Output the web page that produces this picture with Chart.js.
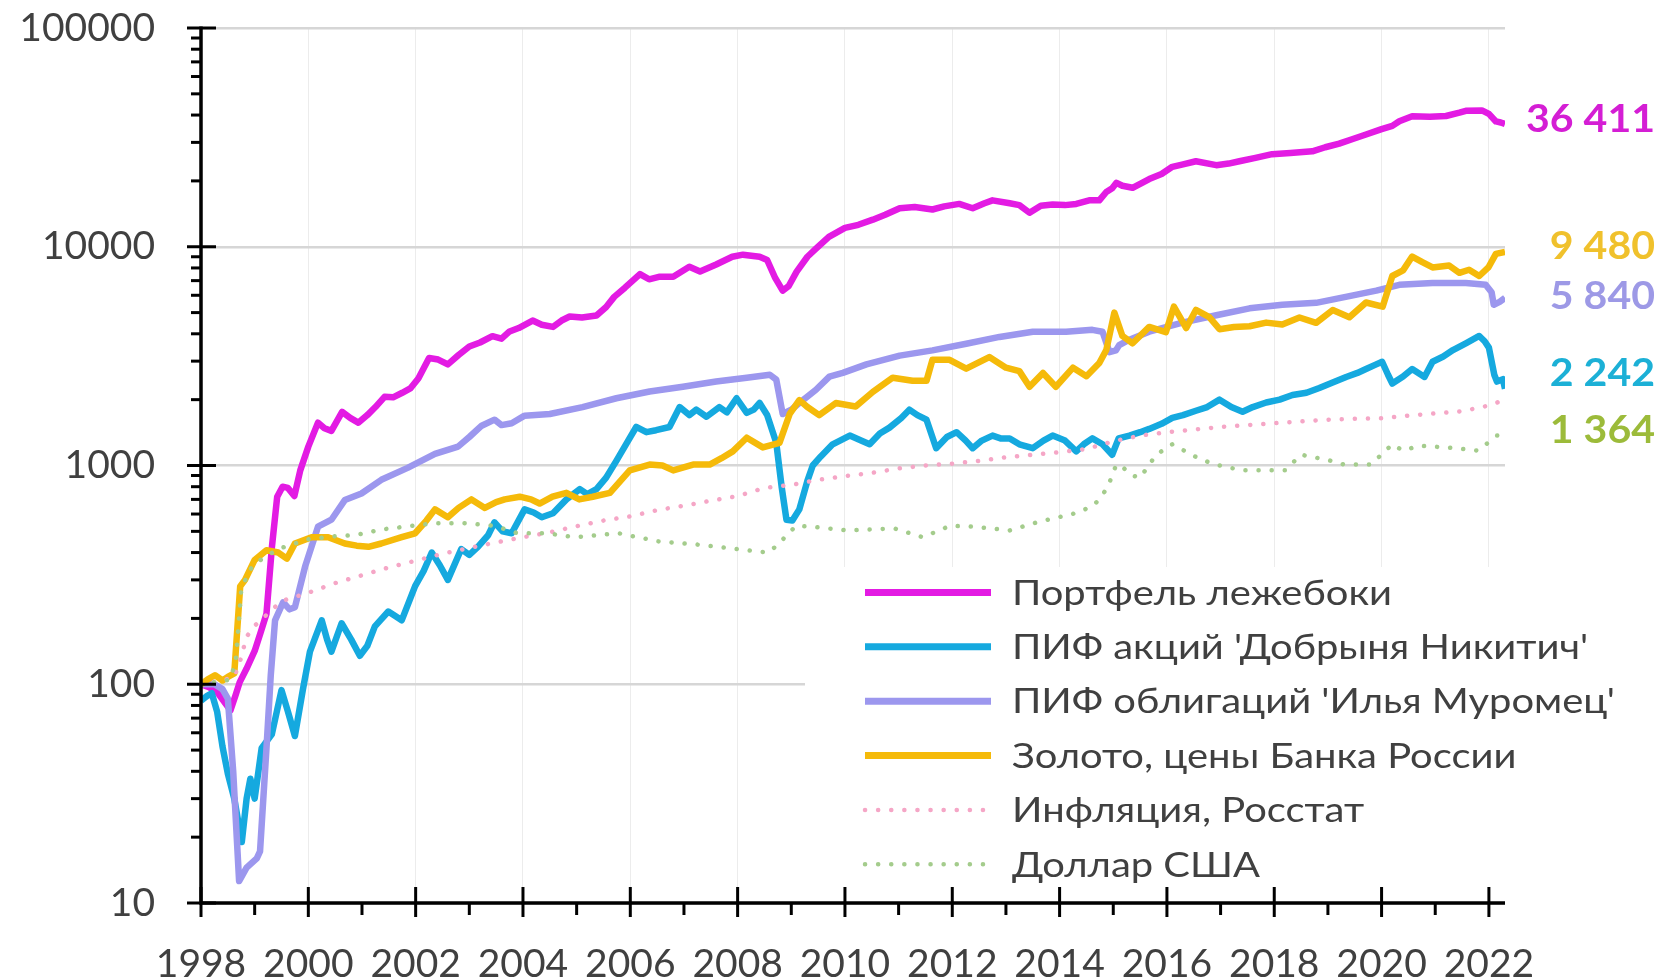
<!DOCTYPE html>
<html>
<head>
<meta charset="utf-8">
<script src="https://cdn.jsdelivr.net/npm/chart.js@4.4.0/dist/chart.umd.min.js"></script>
<style>
  html, body { margin: 0; padding: 0; background: #fff; }
</style>
</head>
<body>
<canvas id="chart" width="1671" height="980"></canvas>
<script>
// tick labels
const xTicks = [1998, 2000, 2002, 2004, 2006, 2008, 2010, 2012, 2014, 2016, 2018, 2020, 2022];
const yTicks = [10, 100, 1000, 10000, 100000];

const seriesNames = [
  "Портфель лежебоки",
  "ПИФ акций 'Добрыня Никитич'",
  "ПИФ облигаций 'Илья Муромец'",
  "Золото, цены Банка России",
  "Инфляция, Росстат",
  "Доллар США"
];

// [year, value], value of 100 = January 1998
const portfolioPoints = [
  [1998.00,100],[1998.15,97],[1998.30,92],[1998.45,82],[1998.55,76],[1998.65,90],[1998.72,102],[1998.85,118],
  [1999.00,142],[1999.12,175],[1999.22,210],[1999.32,420],[1999.42,720],[1999.52,800],[1999.62,790],[1999.74,725],
  [1999.85,950],[2000.00,1220],[2000.18,1570],[2000.30,1480],[2000.43,1440],[2000.63,1760],[2000.78,1650],[2000.93,1570],
  [2001.10,1700],[2001.25,1850],[2001.42,2060],[2001.58,2050],[2001.75,2150],[2001.90,2250],[2002.05,2500],[2002.25,3100],
  [2002.42,3050],[2002.60,2900],[2002.80,3200],[2003.00,3500],[2003.20,3650],[2003.43,3900],[2003.60,3800],[2003.75,4100],
  [2003.92,4250],[2004.18,4600],[2004.35,4400],[2004.56,4300],[2004.72,4600],[2004.87,4800],[2005.10,4750],[2005.37,4850],
  [2005.55,5300],[2005.70,5900],[2005.90,6500],[2006.18,7500],[2006.35,7100],[2006.55,7300],[2006.80,7300],[2007.10,8100],
  [2007.30,7700],[2007.60,8300],[2007.90,9000],[2008.10,9200],[2008.41,9000],[2008.55,8700],[2008.70,7200],[2008.84,6300],
  [2008.95,6600],[2009.10,7700],[2009.30,9000],[2009.46,9800],[2009.70,11100],[2010.00,12200],[2010.25,12600],[2010.52,13300],
  [2010.75,14000],[2011.02,15000],[2011.30,15200],[2011.63,14800],[2011.85,15300],[2012.13,15700],[2012.38,15000],[2012.60,15800],
  [2012.75,16300],[2013.07,15800],[2013.25,15500],[2013.44,14300],[2013.65,15400],[2013.87,15600],[2014.10,15500],[2014.31,15700],
  [2014.55,16300],[2014.74,16300],[2014.87,17800],[2014.98,18500],[2015.06,19600],[2015.17,19000],[2015.36,18600],[2015.67,20400],
  [2015.90,21500],[2016.10,23200],[2016.30,23800],[2016.54,24600],[2016.92,23600],[2017.15,24000],[2017.35,24600],[2017.65,25500],
  [2017.96,26500],[2018.30,26800],[2018.71,27300],[2018.95,28500],[2019.21,29600],[2019.45,31000],[2019.71,32600],[2020.00,34500],
  [2020.20,35700],[2020.33,37500],[2020.57,39500],[2020.90,39300],[2021.20,39600],[2021.45,41000],[2021.57,41800],[2021.87,42000],
  [2022.00,40500],[2022.13,37400],[2022.22,37000],[2022.30,36411]
];

const stocksPoints = [
  [1998.00,84],[1998.10,88],[1998.20,91],[1998.30,75],[1998.40,52],[1998.50,39],[1998.62,30],[1998.76,19],
  [1998.85,30],[1998.92,37],[1999.00,30],[1999.13,51],[1999.25,56],[1999.32,59],[1999.50,94],[1999.62,75],
  [1999.75,58],[1999.90,95],[2000.03,141],[2000.25,196],[2000.35,160],[2000.43,141],[2000.62,190],[2000.80,160],
  [2000.96,135],[2001.10,150],[2001.24,184],[2001.49,215],[2001.62,205],[2001.74,196],[2001.99,281],[2002.15,330],
  [2002.30,400],[2002.45,350],[2002.60,300],[2002.85,415],[2003.00,390],[2003.16,425],[2003.35,480],[2003.47,550],
  [2003.62,500],[2003.79,490],[2004.03,630],[2004.20,610],[2004.35,580],[2004.56,605],[2004.81,700],[2005.06,780],
  [2005.20,740],[2005.37,780],[2005.55,880],[2005.74,1050],[2005.92,1250],[2006.11,1500],[2006.30,1420],[2006.48,1450],
  [2006.73,1500],[2006.92,1850],[2007.10,1700],[2007.23,1800],[2007.42,1670],[2007.66,1850],[2007.80,1750],[2007.98,2030],
  [2008.17,1740],[2008.30,1800],[2008.41,1930],[2008.55,1700],[2008.72,1270],[2008.82,800],[2008.91,565],[2009.02,560],
  [2009.15,630],[2009.30,850],[2009.40,1000],[2009.55,1100],[2009.77,1250],[2010.09,1370],[2010.30,1300],[2010.46,1250],
  [2010.65,1400],[2010.83,1490],[2011.05,1650],[2011.20,1800],[2011.35,1700],[2011.52,1620],[2011.70,1200],[2011.90,1350],
  [2012.08,1420],[2012.25,1300],[2012.38,1200],[2012.55,1300],[2012.75,1370],[2012.90,1330],[2013.07,1330],[2013.25,1250],
  [2013.50,1200],[2013.70,1300],[2013.87,1370],[2014.10,1300],[2014.31,1160],[2014.45,1250],[2014.61,1330],[2014.80,1250],
  [2014.98,1120],[2015.10,1330],[2015.30,1370],[2015.50,1420],[2015.67,1470],[2015.90,1550],[2016.10,1650],[2016.30,1700],
  [2016.54,1780],[2016.75,1850],[2016.98,2000],[2017.20,1850],[2017.41,1760],[2017.60,1850],[2017.85,1940],[2018.10,2000],
  [2018.34,2100],[2018.60,2150],[2018.84,2260],[2019.10,2400],[2019.34,2540],[2019.55,2650],[2019.71,2760],[2019.90,2900],
  [2020.01,2980],[2020.12,2600],[2020.20,2370],[2020.40,2550],[2020.57,2760],[2020.80,2540],[2020.95,2980],[2021.15,3150],
  [2021.33,3370],[2021.57,3620],[2021.82,3910],[2021.92,3700],[2022.00,3460],[2022.10,2600],[2022.15,2420],[2022.26,2480],
  [2022.30,2242]
];

const bondsPoints = [
  [1998.00,100],[1998.25,100],[1998.40,95],[1998.50,86],[1998.60,40],[1998.71,12.6],[1998.85,14.5],[1999.04,16],
  [1999.10,17.2],[1999.22,51],[1999.30,110],[1999.38,196],[1999.53,237],[1999.65,220],[1999.75,225],[1999.94,345],
  [2000.18,525],[2000.43,565],[2000.68,695],[2000.99,745],[2001.36,860],[2001.85,975],[2002.36,1130],[2002.79,1220],
  [2003.00,1350],[2003.23,1520],[2003.47,1620],[2003.60,1530],[2003.79,1560],[2004.03,1690],[2004.50,1720],[2005.11,1850],
  [2005.74,2030],[2006.36,2180],[2006.98,2290],[2007.60,2420],[2008.17,2520],[2008.60,2600],[2008.72,2470],[2008.84,1720],
  [2009.00,1800],[2009.15,1930],[2009.46,2220],[2009.71,2550],[2009.96,2650],[2010.40,2900],[2011.02,3180],[2011.63,3360],
  [2012.26,3600],[2012.88,3870],[2013.50,4090],[2014.12,4090],[2014.61,4170],[2014.80,4090],[2014.93,3300],[2015.05,3360],
  [2015.11,3550],[2015.30,3760],[2015.67,4090],[2016.29,4500],[2016.92,4860],[2017.54,5230],[2018.15,5430],[2018.78,5540],
  [2019.40,5950],[2019.90,6300],[2020.33,6700],[2020.95,6820],[2021.57,6820],[2021.94,6700],[2022.05,6200],[2022.09,5430],
  [2022.20,5600],[2022.30,5840]
];

const goldPoints = [
  [1998.00,100],[1998.12,105],[1998.26,110],[1998.40,104],[1998.50,108],[1998.62,112],[1998.73,280],[1998.82,300],
  [1999.00,370],[1999.22,410],[1999.44,400],[1999.60,375],[1999.75,440],[2000.06,470],[2000.37,470],[2000.68,440],
  [2000.90,430],[2001.12,425],[2001.36,440],[2001.74,470],[2001.99,490],[2002.20,560],[2002.36,630],[2002.60,580],
  [2002.80,640],[2003.04,700],[2003.29,640],[2003.50,680],[2003.66,700],[2003.94,720],[2004.15,700],[2004.31,670],
  [2004.55,720],[2004.81,750],[2005.05,700],[2005.30,720],[2005.62,750],[2005.99,950],[2006.36,1010],[2006.60,1000],
  [2006.80,950],[2007.17,1010],[2007.48,1010],[2007.70,1080],[2007.91,1160],[2008.17,1340],[2008.47,1210],[2008.78,1270],
  [2008.97,1720],[2009.15,1990],[2009.30,1850],[2009.52,1700],[2009.83,1930],[2010.20,1860],[2010.52,2170],[2010.89,2520],
  [2011.26,2440],[2011.52,2440],[2011.63,3040],[2011.95,3040],[2012.26,2770],[2012.69,3130],[2013.00,2800],[2013.25,2700],
  [2013.44,2290],[2013.69,2650],[2013.93,2290],[2014.25,2800],[2014.50,2560],[2014.74,2940],[2014.87,3370],[2015.02,5000],
  [2015.17,3910],[2015.36,3620],[2015.67,4300],[2015.98,4070],[2016.13,5320],[2016.36,4250],[2016.54,5140],[2016.79,4770],
  [2016.98,4200],[2017.25,4300],[2017.54,4330],[2017.85,4500],[2018.15,4410],[2018.47,4750],[2018.78,4490],[2019.09,5140],
  [2019.40,4760],[2019.71,5560],[2020.02,5320],[2020.20,7350],[2020.40,7800],[2020.57,9020],[2020.76,8500],[2020.95,8040],
  [2021.26,8200],[2021.45,7600],[2021.63,7850],[2021.82,7350],[2021.99,8040],[2022.13,9280],[2022.30,9480]
];

const inflationPoints = [
  [1998.00,100],[1998.60,107],[1998.70,120],[1998.85,165],[1999.00,185],[1999.50,240],[2000.00,262],[2000.50,290],
  [2001.00,315],[2001.50,342],[2002.00,367],[2002.50,395],[2003.00,420],[2003.50,445],[2004.00,470],[2004.50,495],
  [2005.00,528],[2005.50,560],[2006.00,585],[2006.50,625],[2007.00,655],[2007.50,690],[2008.00,725],[2008.50,790],
  [2009.00,815],[2009.50,860],[2010.00,895],[2010.50,925],[2011.00,970],[2011.50,1000],[2012.00,1020],[2012.50,1050],
  [2013.00,1090],[2013.50,1120],[2014.00,1150],[2014.50,1190],[2015.00,1290],[2015.50,1370],[2016.00,1420],[2016.50,1460],
  [2017.00,1500],[2017.50,1530],[2018.00,1560],[2018.50,1590],[2019.00,1620],[2019.50,1635],[2020.00,1645],[2020.50,1690],
  [2021.00,1730],[2021.50,1770],[2022.00,1880],[2022.30,2000]
];

const dollarPoints = [
  [1998.00,100],[1998.55,105],[1998.65,130],[1998.75,270],[1998.90,330],[1999.00,355],[1999.25,390],[1999.50,420],
  [1999.75,440],[2000.00,460],[2000.50,475],[2000.87,480],[2001.36,510],[2001.80,525],[2002.36,545],[2002.90,545],
  [2003.47,530],[2003.90,490],[2004.45,490],[2004.97,470],[2005.78,490],[2006.52,450],[2007.25,435],[2007.98,415],
  [2008.57,400],[2008.78,440],[2008.94,490],[2009.10,530],[2009.38,525],[2010.05,505],[2010.93,515],[2011.45,470],
  [2011.96,530],[2012.40,525],[2013.07,505],[2013.58,550],[2014.24,600],[2014.61,650],[2014.74,700],[2014.90,800],
  [2015.05,1000],[2015.12,1010],[2015.35,900],[2015.50,880],[2015.80,1120],[2016.10,1250],[2016.60,1075],[2016.90,1010],
  [2017.40,950],[2017.80,950],[2018.20,950],[2018.50,1120],[2019.00,1060],[2019.30,1010],[2019.80,1010],[2020.20,1250],
  [2020.40,1170],[2020.70,1230],[2021.20,1210],[2021.80,1170],[2022.15,1370],[2022.30,1364]
];

const seriesData = [portfolioPoints, stocksPoints, bondsPoints, goldPoints, inflationPoints, dollarPoints];

const seriesStyles = [
  { color: '#e31be3', width: 6.5, dotted: false, labelColor: '#d41ed4', labelDy: -4 },
  { color: '#15a9df', width: 6.5, dotted: false, labelColor: '#1cb0d6', labelDy: -15 },
  { color: '#9c97ee', width: 6.5, dotted: false, labelColor: '#9d99e6', labelDy: -1 },
  { color: '#f5ba0a', width: 6.5, dotted: false, labelColor: '#f0c12c', labelDy: -5 },
  { color: '#f5a6c6', width: 4.5, dotted: true, labelColor: null, labelDy: 0 },
  { color: '#a4cc8c', width: 4.5, dotted: true, labelColor: '#9cbb3a', labelDy: -5 }
];

const FONT = "Lato, 'Open Sans', sans-serif";
const TEXT = '#404040';
const DOTS = [0.1, 13];

const fmt = v => String(v).replace(/\B(?=(\d{3})+(?!\d))/g, ' ');

// draws text stretched sideways by sx, anchored at x
function wideText(ctx, str, x, y, sx) {
  ctx.save();
  ctx.translate(x, y);
  ctx.scale(sx, 1);
  ctx.fillText(str, 0, 0);
  ctx.restore();
}

const excelLook = {
  id: 'excelLook',
  beforeDatasetsDraw(chart) {
    // white legend box hides the gridlines behind it
    const ctx = chart.ctx;
    ctx.save();
    ctx.fillStyle = '#fff';
    ctx.fillRect(805, 567, 830, 326);
    ctx.restore();
  },
  afterDraw(chart) {
    const ctx = chart.ctx;
    const xs = chart.scales.x, ys = chart.scales.y;
    const { left, right, top, bottom } = chart.chartArea;
    const line = (x1, y1, x2, y2) => { ctx.beginPath(); ctx.moveTo(x1, y1); ctx.lineTo(x2, y2); ctx.stroke(); };

    ctx.save();
    ctx.strokeStyle = '#000';
    ctx.lineCap = 'butt';

    // axes
    ctx.lineWidth = 3.5;
    ctx.beginPath();
    ctx.moveTo(left, top - 1.5);
    ctx.lineTo(left, bottom);
    ctx.lineTo(right, bottom);
    ctx.stroke();

    // y ticks: decades both sides, 2..9 minor on the left
    ctx.lineWidth = 3;
    yTicks.forEach(v => {
      const y = ys.getPixelForValue(v);
      line(left - 14, y, left + 15, y);
    });
    yTicks.slice(0, -1).forEach(d => {
      for (let m = 2; m <= 9; m++) {
        const y = ys.getPixelForValue(d * m);
        line(left - 10, y, left, y);
      }
    });

    // x ticks: even years cross the axis, odd years below only
    for (let yr = xTicks[0]; yr <= xTicks[xTicks.length - 1]; yr++) {
      const x = xs.getPixelForValue(yr);
      if (yr % 2 === 0) line(x, bottom - 16, x, bottom + 14);
      else line(x, bottom, x, bottom + 12);
    }
    ctx.restore();

    // end-of-line value labels
    ctx.save();
    ctx.font = `bold 38px ${FONT}`;
    ctx.textAlign = 'right';
    ctx.textBaseline = 'middle';
    const labelSx = 129 / ctx.measureText('36 411').width;
    seriesData.forEach((pts, i) => {
      const st = seriesStyles[i];
      if (!st.labelColor) return;
      const last = pts[pts.length - 1][1];
      ctx.fillStyle = st.labelColor;
      wideText(ctx, fmt(last), 1655, ys.getPixelForValue(last) + st.labelDy, labelSx);
    });
    ctx.restore();

    // legend
    ctx.save();
    ctx.font = `35px ${FONT}`;
    ctx.textAlign = 'left';
    ctx.textBaseline = 'middle';
    const longest = seriesNames.reduce((a, b) => ctx.measureText(b).width > ctx.measureText(a).width ? b : a);
    const legendSx = 603 / ctx.measureText(longest).width;
    seriesNames.forEach((name, i) => {
      const st = seriesStyles[i];
      const y = 592.5 + i * 54.35;
      ctx.strokeStyle = st.color;
      ctx.lineWidth = st.dotted ? 4.5 : 7;
      ctx.lineCap = st.dotted ? 'round' : 'butt';
      ctx.setLineDash(st.dotted ? DOTS : []);
      line(865, y, 991, y);
      ctx.setLineDash([]);
      ctx.fillStyle = TEXT;
      wideText(ctx, name, 1012, y + 1, legendSx);
    });
    ctx.restore();
  }
};

const datasets = seriesData.map((pts, i) => ({
  label: seriesNames[i],
  data: pts.map(([x, y]) => ({ x, y })),
  borderColor: seriesStyles[i].color,
  borderWidth: seriesStyles[i].width,
  borderDash: seriesStyles[i].dotted ? DOTS : [],
  borderCapStyle: seriesStyles[i].dotted ? 'round' : 'butt',
  borderJoinStyle: 'round',
  pointRadius: 0,
  tension: 0,
  fill: false,
  order: seriesNames.length - i
}));

new Chart(document.getElementById('chart').getContext('2d'), {
  type: 'line',
  data: { datasets },
  options: {
    responsive: false,
    animation: false,
    layout: { padding: { top: 28, right: 166, left: 0, bottom: 0 } },
    plugins: { legend: { display: false }, tooltip: { enabled: false } },
    scales: {
      x: {
        type: 'linear',
        min: 1998,
        max: 2022.3,
        afterBuildTicks: s => { s.ticks = xTicks.map(v => ({ value: v })); },
        afterFit: s => { s.height = 77; },
        ticks: {
          font: { family: FONT, size: 39 },
          color: TEXT,
          padding: 0,
          maxRotation: 0,
          autoSkip: false,
          callback: v => String(v)
        },
        // transparent tick marks only push the labels away from the axis
        grid: { color: '#ececec', lineWidth: 1, drawTicks: true, tickLength: 38, tickColor: 'rgba(0,0,0,0)' },
        border: { display: false }
      },
      y: {
        type: 'logarithmic',
        min: 10,
        max: 100000,
        afterBuildTicks: s => { s.ticks = yTicks.map(v => ({ value: v })); },
        afterFit: s => { s.width = 201; },
        ticks: {
          font: { family: FONT, size: 39 },
          color: TEXT,
          padding: 0,
          autoSkip: false,
          callback: v => String(v)
        },
        grid: { color: '#d6d6d6', lineWidth: 2.5, drawTicks: true, tickLength: 46, tickColor: 'rgba(0,0,0,0)' },
        border: { display: false }
      }
    }
  },
  plugins: [excelLook]
});
</script>
</body>
</html>
